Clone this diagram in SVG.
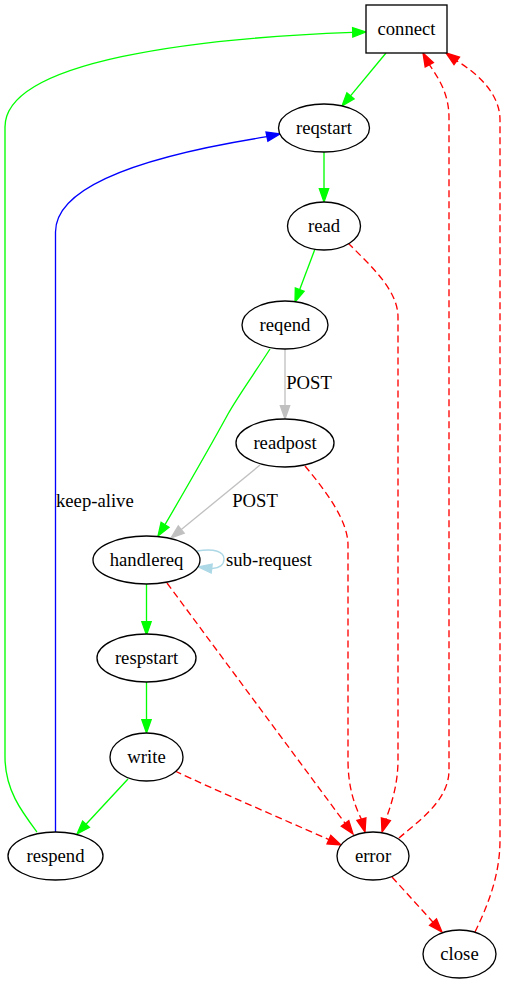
<svg xmlns="http://www.w3.org/2000/svg" width="505" height="984" viewBox="0 0 505 984">
<style>
.n{fill:#fff;stroke:#000;stroke-width:1.33}
.t{font-family:'Liberation Serif','Times New Roman',serif;font-size:18.67px;text-anchor:middle;fill:#000}
.l{font-family:'Liberation Serif','Times New Roman',serif;font-size:18.67px;fill:#000}
.e{fill:none;stroke-width:1.33}
.g{stroke:#00ff00}.ga{fill:#00ff00;stroke:#00ff00;stroke-width:1.33}
.r{stroke:#ff0000;stroke-dasharray:7,4}.ra{fill:#ff0000;stroke:#ff0000;stroke-width:1.33}
.b{stroke:#0000ff}.ba{fill:#0000ff;stroke:#0000ff;stroke-width:1.33}
.s{stroke:#c0c0c0}.sa{fill:#c0c0c0;stroke:#c0c0c0;stroke-width:1.33}
.lb{stroke:#add8e6}.lba{fill:#add8e6;stroke:#add8e6;stroke-width:1.33}
</style>
<rect width="505" height="984" fill="#fff"/>
<g id="edges">
<path class="e g" d="M386,53 L350.5,95.8"/><polygon class="ga" points="342,106 354.1,98.8 346.9,92.8"/>
<path class="e g" d="M324,152 V188.7"/><polygon class="ga" points="324,202 328.67,188.7 319.33,188.7"/>
<path class="e g" d="M315,249 L299.7,289.5"/><polygon class="ga" points="295,302 304.07,291.2 295.33,287.9"/>
<path class="e s" d="M285,349 V405.7"/><polygon class="sa" points="285,419 289.67,405.7 280.33,405.7"/>
<text class="t" x="309" y="389">POST</text>
<path class="e g" d="M270,349 C256,371 238,396 228,414 C210,447 184,492 165,524.7"/><polygon class="ga" points="158,536 169,527.2 161.1,522.2"/>
<path class="e s" d="M260,465 L181.3,529.6"/><polygon class="sa" points="171,538 184.2,533.2 178.3,526"/>
<text class="t" x="255" y="507">POST</text>
<path class="e lb" d="M197,551 C215,548 224,552 224,559 C224,565 219,568 212,568.5"/><polygon class="lba" points="198.5,567 212.2,564 211.2,573"/>
<text class="l" x="226" y="566">sub-request</text>
<path class="e g" d="M146.5,584 V621.7"/><polygon class="ga" points="146.5,635 151.17,621.7 141.83,621.7"/>
<path class="e g" d="M146.5,682 V719.7"/><polygon class="ga" points="146.5,733 151.17,719.7 141.83,719.7"/>
<path class="e g" d="M128,779 L86,824.25"/><polygon class="ga" points="77,834 89.4,827.4 82.6,821.1"/>
<path class="e g" d="M37,832 C22,812 5,790 5,757 V127 C5,60 200,38 352.7,32.4"/><polygon class="ga" points="366,32 352.8,37.1 352.6,27.7"/>
<path class="e b" d="M55.5,832 V232 C55.5,180 170,152 267,136.7"/><polygon class="ba" points="280,134 267.9,141.2 266,132.1"/>
<text class="l" x="56" y="507">keep-alive</text>
<path class="e r" d="M348,243 C370,265 398,290 398,317 V760 C398,785 391,805 385.9,819.3"/><polygon class="ra" points="382,832 390.4,820.7 381.4,817.9"/>
<path class="e r" d="M305,466 C325,490 348,520 348,545 V760 C348,790 356,808 361.4,819.2"/><polygon class="ra" points="365,832 365.9,817.9 356.9,820.5"/>
<path class="e r" d="M167,583 L345.1,823.3"/><polygon class="ra" points="353,834 348.8,820.5 341.3,826.1"/>
<path class="e r" d="M175,771 C215,790 280,818 328.9,839.6"/><polygon class="ra" points="341,845 330.8,835.3 327,843.9"/>
<path class="e r" d="M399,838 C420,820 449,800 449,770 V118 C449,95 440,80 429.3,64.7"/><polygon class="ra" points="423,53 433.4,62.5 425.2,66.9"/>
<path class="e r" d="M392,877 L433.05,922.2"/><polygon class="ra" points="442,932 436.5,919 429.6,925.3"/>
<path class="e r" d="M475,932 C488,905 500,875 500,840 V120 C500,95 480,75 456.7,60.85"/><polygon class="ra" points="446,53 459.5,57.1 454,64.6"/>
</g>
<g id="connect"><rect class="n" x="366" y="5" width="81" height="48"/><text class="t" x="406.5" y="35">connect</text></g>
<g id="reqstart"><ellipse class="n" cx="324" cy="128" rx="45.5" ry="24"/><text class="t" x="324" y="134">reqstart</text></g>
<g id="read"><ellipse class="n" cx="324" cy="226" rx="36.5" ry="24"/><text class="t" x="324" y="232">read</text></g>
<g id="reqend"><ellipse class="n" cx="285" cy="325" rx="43" ry="24"/><text class="t" x="285" y="331">reqend</text></g>
<g id="readpost"><ellipse class="n" cx="285" cy="443" rx="49" ry="24"/><text class="t" x="285" y="449">readpost</text></g>
<g id="handlereq"><ellipse class="n" cx="146.5" cy="560" rx="53.5" ry="24"/><text class="t" x="146.5" y="566">handlereq</text></g>
<g id="respstart"><ellipse class="n" cx="146.5" cy="658" rx="49.5" ry="24"/><text class="t" x="146.5" y="664">respstart</text></g>
<g id="write"><ellipse class="n" cx="146.5" cy="757" rx="36.5" ry="24"/><text class="t" x="146.5" y="763">write</text></g>
<g id="respend"><ellipse class="n" cx="55.5" cy="856" rx="47.5" ry="24"/><text class="t" x="55.5" y="862">respend</text></g>
<g id="error"><ellipse class="n" cx="373" cy="856" rx="36" ry="24"/><text class="t" x="373" y="862">error</text></g>
<g id="close"><ellipse class="n" cx="459.5" cy="954" rx="36.5" ry="24"/><text class="t" x="459.5" y="960">close</text></g>
</svg>
